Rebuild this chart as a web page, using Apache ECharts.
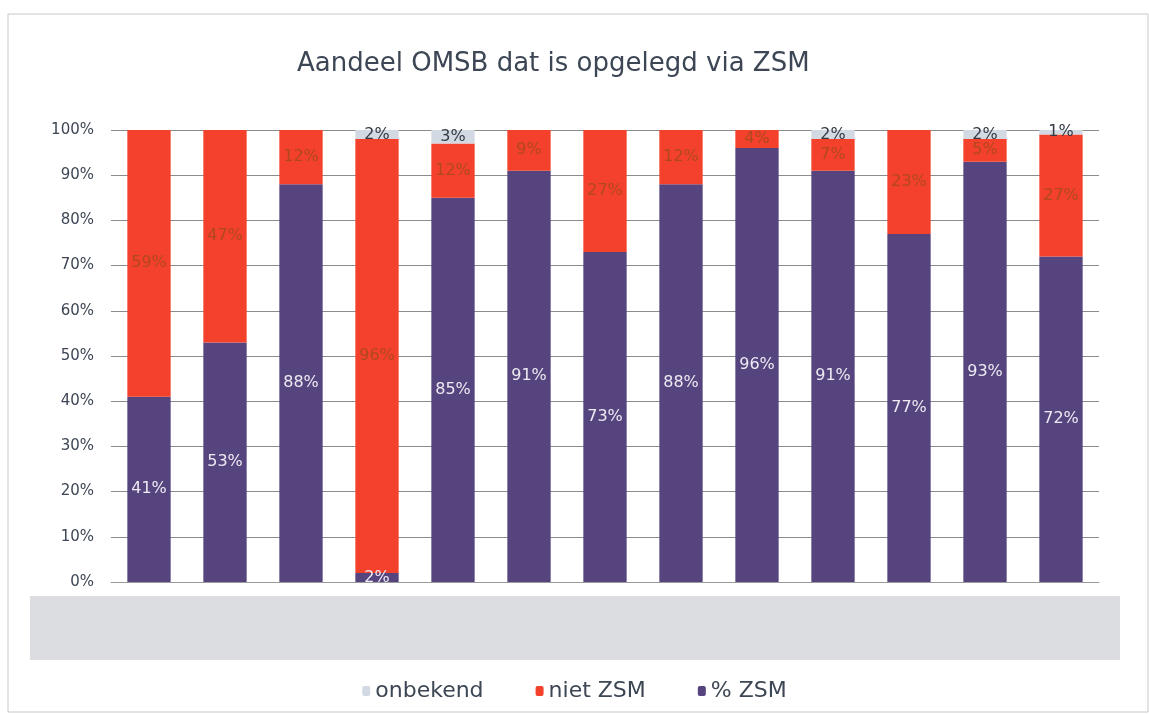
<!DOCTYPE html>
<html>
<head>
<meta charset="utf-8">
<script src="https://cdn.jsdelivr.net/npm/echarts@6/dist/echarts.min.js"></script>
<style>
  html, body { margin: 0; padding: 0; background: #fff; }
  #chart { width: 1149px; height: 715px; }
</style>
</head>
<body>
<div id="chart"></div>
<script>
// categorieen zijn in het origineel weggelakt (grijze balk)
var categories = ['1', '2', '3', '4', '5', '6', '7', '8', '9', '10', '11', '12', '13'];
var zsm      = [41, 53, 88, 2, 85, 91, 73, 88, 96, 91, 77, 93, 72];
var nietZsm  = [59, 47, 12, 96, 12, 9, 27, 12, 4, 7, 23, 5, 27];
var onbekend = [0, 0, 0, 2, 3, 0, 0, 0, 0, 2, 0, 2, 1];
var yTicks   = [0, 10, 20, 30, 40, 50, 60, 70, 80, 90, 100];

(function () {
    var chart = echarts.init(document.getElementById('chart'));
    var font = 'Verdana, "DejaVu Sans", sans-serif';

    function pct(p) {
        return p.value > 0 ? p.value + '%' : '';
    }

    var option = {
        animation: false,
        backgroundColor: '#fff',
        textStyle: { fontFamily: font },
        title: {
            text: 'Aandeel OMSB dat is opgelegd via ZSM',
            left: 292,
            top: 46,
            textStyle: { color: '#3d4654', fontSize: 26, fontWeight: 'normal', fontFamily: font }
        },
        legend: {
            bottom: 8,
            left: 'center',
            itemWidth: 8,
            itemHeight: 10,
            itemGap: 52,
            data: ['onbekend', 'niet ZSM', '% ZSM'],
            textStyle: { color: '#3d4654', fontSize: 22, fontFamily: font }
        },
        grid: {
            left: 111,
            right: 50,
            top: 130,
            bottom: 133
        },
        xAxis: {
            type: 'category',
            data: categories,
            axisLine: { lineStyle: { color: '#9a9a9a' } },
            axisTick: { show: false },
            axisLabel: { show: false }
        },
        yAxis: {
            type: 'value',
            min: yTicks[0],
            max: yTicks[yTicks.length - 1],
            interval: 10,
            axisLine: { show: false },
            axisTick: { show: false },
            axisLabel: {
                formatter: '{value}%',
                margin: 17,
                color: '#3d4654',
                fontSize: 15,
                fontFamily: font
            },
            splitLine: { lineStyle: { color: '#8c8c8c', width: 1 } }
        },
        graphic: [
            {
                type: 'rect',
                shape: { x: 8, y: 14, width: 1140, height: 698 },
                style: { fill: 'none', stroke: '#c8c8c8', lineWidth: 1 },
                silent: true
            },
            {
                type: 'rect',
                shape: { x: 30, y: 596, width: 1090, height: 64 },
                style: { fill: '#dcdde0' },
                silent: true
            }
        ],
        series: [
            {
                name: '% ZSM',
                type: 'bar',
                stack: 'totaal',
                barCategoryGap: '43%',
                data: zsm,
                itemStyle: { color: '#56447f' },
                label: {
                    show: true,
                    position: 'inside',
                    formatter: pct,
                    color: '#eceaf2',
                    fontSize: 16,
                    fontFamily: font
                }
            },
            {
                name: 'niet ZSM',
                type: 'bar',
                stack: 'totaal',
                data: nietZsm,
                itemStyle: { color: '#f4412b' },
                label: {
                    show: true,
                    position: 'inside',
                    formatter: pct,
                    color: '#b0481f',
                    fontSize: 16,
                    fontFamily: font
                }
            },
            {
                name: 'onbekend',
                type: 'bar',
                stack: 'totaal',
                data: onbekend,
                itemStyle: { color: '#d3d9e3' },
                label: {
                    show: true,
                    position: 'inside',
                    formatter: pct,
                    color: '#333a44',
                    fontSize: 16,
                    fontFamily: font
                }
            }
        ]
    };

    chart.setOption(option);
})();
</script>
</body>
</html>
